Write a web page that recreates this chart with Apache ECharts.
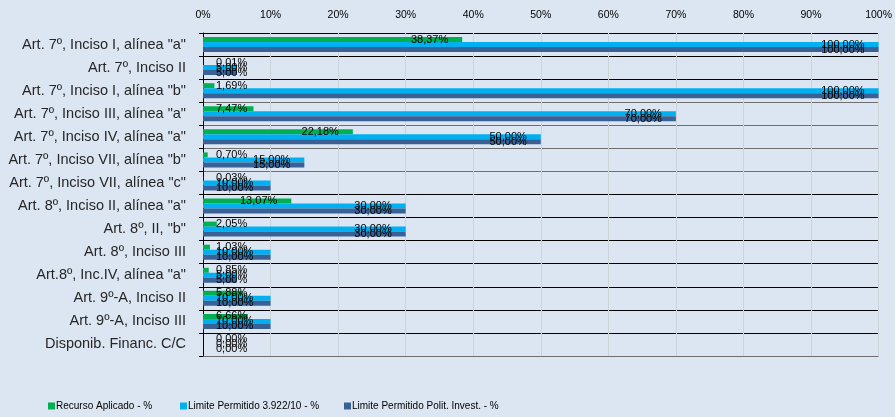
<!DOCTYPE html>
<html>
<head>
<meta charset="utf-8">
<script src="https://cdn.jsdelivr.net/npm/echarts@6/dist/echarts.min.js"></script>
<style>
html,body{margin:0;padding:0;background:#dce6f2;}
#chart{width:895px;height:417px;}
</style>
</head>
<body>
<div id="chart"></div>
<script>
var categories = [
  'Art. 7º, Inciso I, alínea "a"',
  'Art. 7º, Inciso II',
  'Art. 7º, Inciso I, alínea "b"',
  'Art. 7º, Inciso III, alínea "a"',
  'Art. 7º, Inciso IV, alínea "a"',
  'Art. 7º, Inciso VII, alínea "b"',
  'Art. 7º, Inciso VII, alínea "c"',
  'Art. 8º, Inciso II, alínea "a"',
  'Art. 8º, II, "b"',
  'Art. 8º, Inciso III',
  'Art.8º, Inc.IV, alínea "a"',
  'Art. 9º-A, Inciso II',
  'Art. 9º-A, Inciso III',
  'Disponib. Financ. C/C'
];
var recursoAplicado = [38.37, 0.01, 1.69, 7.47, 22.18, 0.70, 0.03, 13.07, 2.05, 1.03, 0.85, 5.88, 6.66, 0.00];
var limite3922 = [100, 5, 100, 70, 50, 15, 10, 30, 30, 10, 5, 10, 10, 0];
var limitePolit = [100, 5, 100, 70, 50, 15, 10, 30, 30, 10, 5, 10, 10, 0];
var seriesNames = ['Recurso Aplicado - %', 'Limite Permitido 3.922/10 - %', 'Limite Permitido Polit. Invest. - %'];
var xTicks = [0, 10, 20, 30, 40, 50, 60, 70, 80, 90, 100];

var colors = ['#00b050', '#00b0f0', '#3a6195'];
var FONT = '"Liberation Sans", Arial, sans-serif';

function fmt(v) { return v.toFixed(2).replace('.', ',') + '%'; }

function items(arr) {
  return arr.map(function (v) {
    var lbl = v > 10
      ? { position: 'insideRight', distance: 14 }
      : { position: [13, '50%'], align: 'left', verticalAlign: 'middle' };
    return { value: v, label: lbl };
  });
}

function barSeries(name, arr, color) {
  return {
    name: name,
    type: 'bar',
    data: items(arr),
    barWidth: 5,
    barGap: '0%',
    itemStyle: { color: color },
    label: {
      show: true,
      color: '#000',
      fontSize: 11,
      fontFamily: FONT,
      formatter: function (p) { return fmt(p.value); }
    }
  };
}

var lineColors = ['#000', '#000', '#000', '#6f6f6f', '#6f6f6f', '#6f6f6f', '#6f6f6f',
                  '#000', '#000', '#000', '#000', '#000', '#000', '#000', '#6f6f6f'];

var chart = echarts.init(document.getElementById('chart'), null, { renderer: 'canvas' });
chart.setOption({
  backgroundColor: '#dce6f2',
  animation: false,
  color: colors,
  grid: { left: 203, right: 14, top: 33, bottom: 61 },
  legend: [0, 1, 2].map(function (i) {
    return {
      data: [seriesNames[i]],
      left: [43, 175, 339][i],
      top: 396,
      itemWidth: 7, itemHeight: 7, itemGap: 0,
      icon: 'rect',
      textStyle: { fontSize: 10, color: '#000', fontFamily: FONT, padding: [0, 0, 0, -4] }
    };
  }),
  xAxis: {
    type: 'value',
    position: 'top',
    min: 0, max: 100, interval: 10,
    axisLine: { show: false },
    axisTick: { show: false },
    axisLabel: {
      fontSize: 10.5, color: '#000', fontFamily: FONT, margin: 12,
      formatter: function (v) { return xTicks.indexOf(v) >= 0 ? v + '%' : ''; }
    },
    splitLine: { show: true, lineStyle: { color: '#cdd3da', width: 1 } }
  },
  yAxis: {
    type: 'category',
    inverse: true,
    data: categories,
    axisLine: { show: true, lineStyle: { color: '#000', width: 1 } },
    axisTick: { show: true, length: 4, lineStyle: { color: '#000' } },
    axisLabel: { fontSize: 14.5, color: '#262626', fontFamily: FONT, margin: 17 },
    splitLine: { show: true, lineStyle: { color: lineColors, width: 1 } }
  },
  series: [
    barSeries(seriesNames[0], recursoAplicado, colors[0]),
    barSeries(seriesNames[1], limite3922, colors[1]),
    barSeries(seriesNames[2], limitePolit, colors[2])
  ]
});
</script>
</body>
</html>
